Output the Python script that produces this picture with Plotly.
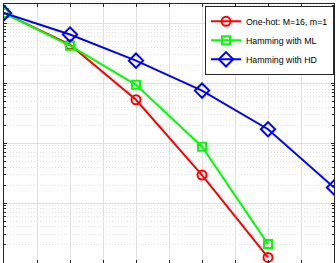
import plotly.graph_objects as go

snr = [0, 2, 4, 6, 8, 10]
onehot = [0.148, 0.044, 0.0053, 2.93e-4, 1.24e-5]
ham_ml = [0.148, 0.0423, 0.0094, 8.7e-4, 2.07e-5]
ham_hd = [0.149, 0.065, 0.0238, 0.00753, 0.00171, 1.82e-4]
names = ["One-hot: M=16, m=1", "Hamming with ML", "Hamming with HD"]

fig = go.Figure()
fig.add_trace(go.Scatter(x=snr[:len(onehot)], y=onehot, name=names[0], mode="lines+markers",
                         line=dict(color="#ff0000", width=2),
                         marker=dict(symbol="circle-open", size=9, line=dict(width=2, color="#ff0000"))))
fig.add_trace(go.Scatter(x=snr[:len(ham_ml)], y=ham_ml, name=names[1], mode="lines+markers",
                         line=dict(color="#00ff00", width=2),
                         marker=dict(symbol="square-open", size=8, line=dict(width=2, color="#00ff00"))))
fig.add_trace(go.Scatter(x=snr, y=ham_hd, name=names[2], mode="lines+markers",
                         line=dict(color="#0000ff", width=2),
                         marker=dict(symbol="diamond-open", size=11, line=dict(width=2, color="#0000ff"))))

axis_common = dict(showline=True, linecolor="#262626", linewidth=1, mirror="ticks",
                   ticks="inside", ticklen=3, tickcolor="#262626", showticklabels=False,
                   gridcolor="#e0e0e0", gridwidth=1, zeroline=False)
fig.update_xaxes(range=[0, 10], dtick=1, **axis_common)
fig.update_yaxes(type="log", range=[-5, -0.678], dtick=1,
                 minor=dict(ticks="inside", ticklen=2, tickcolor="#262626", showgrid=True,
                            gridcolor="#e2e2e2", griddash="1px,2px", gridwidth=1),
                 **axis_common)

fig.update_layout(
    width=336, height=263,
    margin=dict(l=4, r=2, t=4, b=0),
    plot_bgcolor="white", paper_bgcolor="white",
    font=dict(family="Liberation Sans, Arial, sans-serif", size=9, color="#000000"),
    legend=dict(x=1.0, y=0.993, xanchor="right", yanchor="top",
                bgcolor="white", bordercolor="#262626", borderwidth=1,
                font=dict(size=8.8), tracegroupgap=0, itemwidth=30),
    showlegend=True,
)
fig.write_html("out.html")
